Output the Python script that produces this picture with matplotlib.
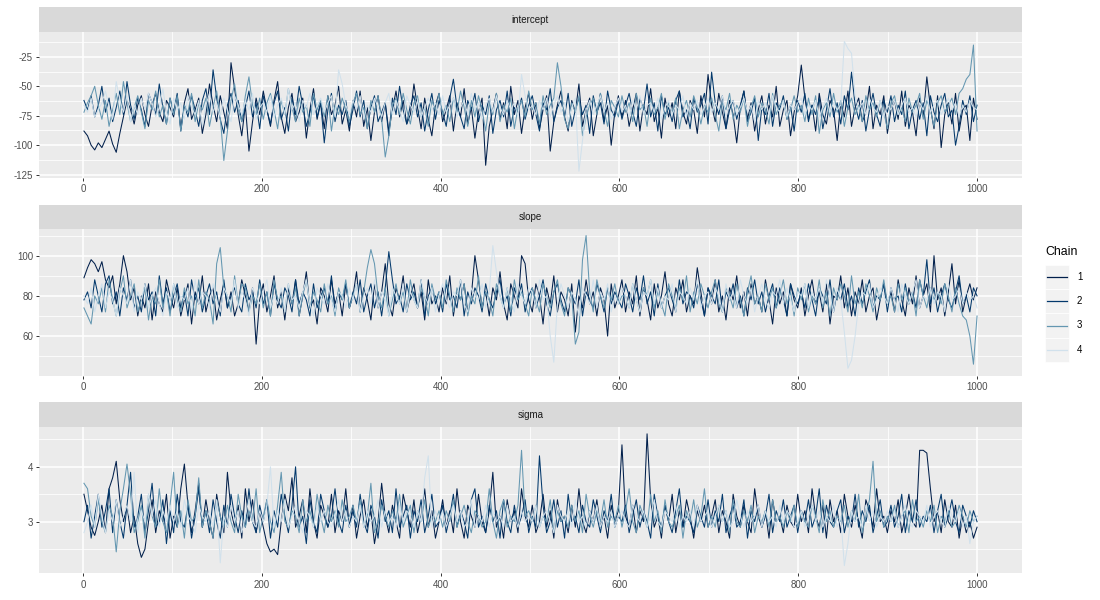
"""
Trace plot of four MCMC chains for intercept, slope and sigma.
"""
import numpy as np
import matplotlib
matplotlib.use("Agg")
import matplotlib.pyplot as plt
from matplotlib.patches import Rectangle
from matplotlib.lines import Line2D

# values, one every ~4 iterations (1..1000)
chains = ["1", "2", "3", "4"]
chain_colors = ["#011f4b", "#03396c", "#6497b1", "#d1e1ec"]
parameters = ["intercept", "slope", "sigma"]

intercept_1 = [-88, -92, -100, -104, -98, -102, -95, -88, -99, -106, -90, -76, -62, -70, -82, -66, -58, -74, -84, -66, -56, -72, -80, -62, -68,
               -76, -58, -86, -64, -52, -78, -70, -60, -90, -74, -48, -66, -80, -58, -72, -86, -30, -52, -74, -92, -66, -105, -80, -60, -74,
               -54, -70, -84, -62, -46, -76, -90, -68, -56, -80, -72, -60, -94, -70, -52, -78, -64, -86, -58, -74, -66, -50, -82, -70, -88,
               -62, -76, -54, -84, -68, -96, -72, -58, -80, -64, -88, -70, -54, -76, -62, -82, -74, -48, -68, -86, -60, -78, -92, -66, -56,
               -80, -70, -58, -88, -64, -76, -52, -82, -68, -94, -72, -60, -117, -84, -70, -56, -78, -64, -86, -50, -74, -62, -90, -68, -56,
               -78, -64, -86, -70, -58, -105, -80, -66, -54, -76, -88, -62, -72, -48, -84, -70, -60, -92, -74, -56, -80, -66, -100, -72, -58,
               -76, -62, -84, -70, -56, -88, -66, -74, -52, -80, -68, -94, -60, -76, -64, -86, -54, -72, -82, -62, -70, -90, -58, -76, -40,
               -66, -80, -56, -72, -86, -62, -74, -98, -68, -54, -78, -64, -88, -70, -58, -82, -66, -76, -50, -84, -70, -62, -92, -72, -58,
               -32, -60, -78, -66, -88, -56, -74, -82, -62, -70, -96, -64, -76, -54, -84, -68, -60, -80, -72, -50, -86, -66, -74, -58, -90,
               -70, -62, -78, -54, -84, -66, -72, -92, -60, -76, -42, -68, -86, -58, -102, -74, -64, -82, -56, -88, -70, -66, -96, -60, -78]
intercept_2 = [-62, -70, -58, -76, -66, -50, -72, -60, -80, -68, -54, -74, -46, -66, -78, -60, -70, -84, -56, -64, -74, -48, -68, -82, -60,
               -72, -56, -88, -66, -76, -58, -70, -84, -62, -52, -74, -36, -60, -78, -90, -66, -56, -72, -62, -80, -68, -54, -76, -64, -86,
               -58, -70, -82, -64, -54, -78, -68, -88, -60, -74, -50, -66, -84, -72, -58, -76, -64, -98, -70, -56, -80, -66, -74, -62, -84,
               -70, -54, -76, -62, -86, -68, -58, -80, -72, -64, -92, -60, -74, -50, -70, -82, -66, -58, -76, -64, -88, -70, -56, -78, -62,
               -72, -84, -60, -44, -68, -76, -86, -62, -70, -56, -80, -66, -74, -58, -90, -70, -62, -76, -54, -84, -68, -72, -60, -78, -66,
               -58, -74, -88, -64, -70, -52, -80, -68, -62, -76, -56, -84, -70, -60, -74, -66, -90, -58, -72, -64, -82, -54, -70, -76, -62,
               -78, -66, -56, -72, -84, -60, -70, -48, -76, -64, -88, -58, -74, -68, -80, -62, -54, -76, -70, -86, -60, -72, -66, -56, -82,
               -38, -64, -74, -58, -86, -70, -62, -78, -66, -54, -80, -72, -60, -96, -68, -74, -56, -84, -64, -70, -58, -78, -66, -88, -62,
               -72, -56, -80, -66, -74, -60, -86, -70, -52, -76, -64, -82, -58, -70, -38, -66, -78, -62, -88, -70, -56, -74, -84, -62, -72,
               -58, -80, -66, -74, -54, -86, -70, -62, -78, -64, -92, -58, -72, -80, -66, -56, -76, -70, -100, -84, -62, -74, -58, -80, -66]
intercept_3 = [-72, -64, -58, -50, -66, -78, -62, -84, -70, -56, -74, -46, -64, -80, -68, -58, -72, -86, -62, -70, -54, -76, -66, -82, -60,
               -74, -58, -88, -66, -72, -56, -80, -64, -70, -60, -84, -68, -54, -76, -113, -88, -62, -48, -70, -80, -58, -42, -66, -74, -60,
               -78, -64, -56, -70, -86, -62, -74, -52, -68, -80, -60, -72, -66, -84, -56, -70, -62, -76, -58, -88, -66, -74, -60, -70, -80,
               -64, -56, -74, -68, -86, -62, -72, -58, -78, -110, -92, -66, -60, -74, -56, -70, -82, -64, -58, -76, -68, -84, -62, -70, -56,
               -74, -66, -80, -60, -72, -54, -68, -84, -62, -76, -58, -70, -88, -64, -74, -56, -80, -66, -72, -60, -86, -68, -62, -76, -54,
               -70, -64, -82, -58, -74, -66, -60, -30, -50, -78, -86, -64, -72, -58, -92, -76, -66, -60, -74, -56, -70, -84, -62, -68, -76,
               -58, -72, -64, -80, -56, -70, -66, -84, -60, -74, -68, -56, -78, -64, -72, -60, -86, -70, -62, -76, -58, -68, -82, -66, -72,
               -60, -74, -88, -64, -70, -56, -78, -66, -72, -60, -84, -68, -58, -76, -64, -70, -82, -56, -74, -66, -62, -78, -70, -58, -72,
               -66, -80, -60, -74, -58, -90, -70, -64, -76, -56, -72, -62, -84, -68, -60, -74, -66, -80, -58, -70, -64, -76, -62, -72, -86,
               -64, -58, -74, -68, -80, -60, -72, -66, -56, -78, -62, -70, -84, -64, -58, -72, -66, -60, -74, -56, -52, -44, -40, -15, -88]
intercept_4 = [-66, -72, -60, -76, -70, -64, -54, -68, -78, -46, -62, -72, -58, -80, -66, -74, -60, -70, -56, -64, -76, -68, -52, -72, -82,
               -60, -70, -64, -78, -58, -68, -74, -62, -84, -66, -56, -72, -64, -76, -60, -70, -80, -58, -66, -74, -62, -70, -56, -78, -68,
               -64, -72, -58, -76, -66, -60, -74, -52, -70, -64, -80, -62, -68, -56, -74, -66, -60, -72, -64, -58, -76, -36, -48, -66, -74,
               -62, -70, -58, -78, -66, -72, -60, -68, -76, -64, -56, -74, -62, -70, -80, -58, -66, -72, -62, -76, -68, -60, -70, -64, -74,
               -58, -72, -66, -60, -76, -68, -62, -74, -56, -70, -64, -78, -66, -60, -72, -58, -68, -74, -62, -70, -64, -76, -40, -58, -70,
               -66, -74, -62, -70, -60, -76, -66, -58, -72, -64, -80, -68, -60, -122, -96, -70, -62, -74, -66, -58, -72, -64, -78, -68, -60,
               -72, -66, -76, -62, -70, -58, -74, -66, -64, -72, -60, -78, -68, -62, -74, -66, -70, -58, -76, -64, -70, -62, -74, -68, -60,
               -72, -64, -70, -58, -76, -66, -62, -74, -68, -60, -72, -66, -80, -62, -70, -64, -74, -58, -68, -72, -62, -76, -66, -70, -64,
               -60, -74, -66, -70, -62, -76, -68, -60, -72, -64, -70, -66, -12, -18, -22, -58, -70, -64, -74, -60, -68, -72, -62, -76, -66,
               -70, -62, -74, -66, -60, -72, -68, -76, -64, -70, -58, -72, -66, -62, -74, -68, -60, -70, -64, -76, -66, -72, -62, -68, -70]

slope_1 = [89, 94, 98, 96, 92, 97, 88, 84, 90, 76, 86, 100, 92, 78, 84, 70, 80, 74, 86, 68, 82, 76, 72, 88, 80,
           74, 84, 70, 78, 86, 66, 82, 76, 90, 72, 80, 84, 68, 78, 86, 74, 82, 70, 76, 88, 80, 72, 84, 56, 78,
           86, 72, 80, 90, 74, 82, 68, 84, 76, 88, 70, 80, 92, 74, 78, 66, 84, 80, 72, 88, 76, 82, 70, 86, 74,
           80, 92, 72, 84, 78, 68, 86, 74, 82, 96, 76, 70, 84, 78, 90, 72, 80, 86, 74, 82, 68, 88, 76, 80, 72,
           84, 76, 90, 70, 82, 78, 86, 72, 80, 100, 88, 74, 82, 70, 84, 78, 92, 76, 68, 86, 80, 74, 100, 96, 78,
           72, 86, 80, 66, 84, 76, 90, 72, 82, 78, 70, 86, 62, 80, 74, 88, 76, 82, 70, 84, 78, 60, 86, 74, 80,
           88, 72, 82, 76, 90, 70, 84, 78, 68, 86, 74, 80, 92, 76, 70, 84, 78, 88, 72, 80, 76, 94, 82, 70, 84,
           76, 88, 72, 80, 68, 84, 78, 90, 74, 82, 70, 86, 76, 80, 72, 88, 78, 66, 84, 76, 82, 70, 86, 78, 74,
           84, 70, 80, 88, 76, 82, 72, 86, 66, 80, 78, 90, 74, 84, 70, 82, 76, 88, 72, 80, 84, 68, 78, 86, 76,
           82, 72, 88, 78, 70, 84, 76, 90, 74, 80, 86, 72, 100, 78, 84, 70, 82, 96, 76, 88, 72, 80, 86, 78, 84]
slope_2 = [78, 82, 74, 88, 80, 72, 86, 90, 76, 82, 70, 84, 78, 88, 74, 80, 72, 86, 78, 82, 70, 90, 76, 84, 72,
           80, 86, 74, 82, 70, 88, 78, 84, 72, 80, 86, 76, 82, 70, 88, 74, 80, 84, 76, 72, 86, 78, 82, 74, 88,
           76, 82, 70, 86, 78, 74, 84, 80, 72, 88, 76, 82, 78, 70, 86, 74, 80, 84, 76, 90, 72, 82, 78, 86, 74,
           82, 76, 88, 72, 80, 86, 74, 82, 70, 84, 102, 88, 76, 80, 72, 86, 78, 82, 74, 88, 70, 80, 84, 76, 82,
           72, 86, 78, 80, 74, 88, 70, 82, 76, 84, 80, 72, 86, 78, 74, 82, 88, 76, 80, 70, 84, 78, 86, 72, 80,
           84, 74, 80, 88, 76, 70, 82, 86, 78, 72, 84, 80, 76, 88, 70, 82, 78, 74, 86, 80, 72, 84, 76, 82, 78,
           74, 86, 80, 72, 84, 78, 90, 76, 82, 70, 86, 74, 80, 84, 78, 72, 88, 76, 82, 80, 74, 86, 78, 70, 84,
           80, 76, 88, 72, 82, 78, 86, 74, 80, 70, 84, 78, 88, 76, 82, 72, 80, 86, 74, 84, 78, 70, 86, 80, 76,
           82, 74, 86, 78, 70, 84, 80, 76, 88, 72, 82, 78, 86, 74, 80, 70, 84, 76, 82, 88, 74, 80, 78, 86, 72,
           84, 78, 80, 72, 86, 76, 82, 74, 88, 80, 98, 76, 84, 72, 80, 86, 78, 74, 82, 90, 76, 80, 72, 84, 80]
slope_3 = [74, 70, 66, 80, 76, 84, 72, 88, 78, 70, 82, 90, 74, 80, 86, 72, 78, 84, 68, 80, 76, 88, 74, 82, 70,
           86, 78, 72, 84, 76, 80, 70, 88, 74, 82, 78, 66, 96, 104, 84, 80, 72, 90, 76, 86, 84, 72, 80, 76, 86,
           74, 82, 70, 88, 78, 80, 72, 86, 76, 84, 70, 80, 88, 74, 82, 78, 72, 86, 76, 80, 70, 84, 78, 88, 74,
           80, 86, 72, 82, 94, 103, 96, 80, 74, 84, 70, 78, 86, 76, 82, 72, 88, 78, 74, 84, 80, 70, 86, 78, 82,
           74, 88, 80, 72, 84, 78, 86, 70, 80, 76, 90, 74, 82, 78, 70, 86, 80, 74, 84, 72, 88, 78, 82, 76, 70,
           84, 78, 72, 86, 80, 74, 82, 88, 76, 70, 84, 80, 56, 62, 98, 110, 82, 72, 88, 80, 74, 84, 78, 86, 76,
           80, 80, 74, 86, 78, 72, 84, 80, 88, 74, 82, 76, 70, 86, 80, 74, 84, 78, 90, 72, 82, 76, 86, 80, 74,
           82, 88, 76, 72, 84, 80, 74, 86, 78, 70, 82, 90, 76, 80, 72, 86, 78, 84, 74, 80, 88, 76, 82, 70, 84,
           78, 86, 72, 80, 76, 88, 74, 82, 70, 84, 78, 86, 80, 72, 90, 76, 82, 74, 86, 80, 72, 84, 78, 88, 76,
           80, 72, 86, 78, 84, 76, 82, 70, 88, 80, 74, 84, 78, 82, 76, 86, 80, 72, 84, 76, 70, 68, 60, 46, 70]
slope_4 = [80, 76, 84, 72, 80, 86, 74, 82, 78, 70, 84, 80, 76, 88, 72, 82, 78, 86, 74, 80, 84, 76, 70, 82, 78,
           86, 74, 80, 78, 84, 72, 88, 76, 82, 80, 74, 86, 78, 72, 84, 80, 76, 88, 74, 82, 78, 70, 84, 80, 76,
           82, 88, 74, 80, 76, 84, 72, 86, 78, 80, 74, 82, 88, 76, 70, 84, 80, 76, 86, 78, 72, 82, 80, 74, 84,
           78, 86, 72, 80, 84, 76, 88, 74, 82, 78, 70, 84, 80, 76, 86, 72, 82, 78, 74, 88, 80, 76, 84, 72, 80,
           86, 78, 74, 82, 80, 88, 76, 72, 84, 80, 78, 86, 74, 82, 105, 92, 80, 74, 84, 78, 72, 86, 80, 76, 84,
           82, 74, 88, 78, 80, 60, 47, 76, 86, 80, 74, 82, 78, 70, 84, 80, 76, 88, 74, 82, 78, 86, 72, 80, 76,
           84, 80, 74, 86, 78, 72, 82, 80, 88, 76, 84, 74, 80, 78, 86, 72, 82, 80, 76, 84, 78, 88, 74, 80, 82,
           76, 84, 80, 72, 86, 78, 82, 74, 88, 80, 76, 84, 72, 80, 86, 78, 74, 82, 80, 88, 76, 84, 78, 72, 82,
           80, 86, 74, 82, 78, 84, 76, 88, 80, 72, 84, 78, 62, 44, 48, 60, 76, 82, 80, 86, 74, 78, 84, 80, 76,
           84, 78, 72, 86, 80, 76, 82, 88, 74, 80, 78, 84, 76, 82, 80, 72, 86, 78, 80, 84, 76, 82, 78, 80, 74]

sigma_1 = [3.5, 3.2, 2.9, 2.75, 3.0, 3.3, 2.8, 3.6, 3.8, 4.1, 3.4, 3.0, 3.3, 2.8, 3.1, 2.6, 2.35, 2.5, 3.0, 3.4, 2.8, 3.2, 3.0, 3.5, 2.7,
           3.1, 2.9, 3.6, 4.05, 3.3, 2.8, 3.2, 3.7, 2.9, 3.4, 3.0, 2.7, 3.5, 3.1, 2.8, 3.9, 3.2, 2.9, 3.3, 2.7, 3.6, 3.0, 3.4, 2.8, 3.2,
           2.9, 2.6, 2.45, 2.5, 2.4, 3.0, 3.5, 3.2, 3.8, 2.9, 3.1, 3.4, 2.8, 3.6, 3.0, 2.7, 3.3, 3.1, 2.9, 3.5, 2.8, 3.2, 3.0, 3.6, 2.9,
           3.3, 2.7, 3.1, 3.4, 2.9, 3.2, 2.6, 3.0, 3.7, 3.1, 2.8, 3.3, 3.0, 2.7, 3.5, 3.2, 2.9, 3.4, 2.8, 3.1, 3.6, 2.9, 3.2, 2.7, 3.0,
           3.4, 2.9, 3.2, 2.8, 3.6, 3.0, 2.7, 3.3, 3.1, 2.9, 3.5, 3.0, 2.8, 3.2, 3.9, 2.9, 3.1, 2.7, 3.4, 3.0, 3.2, 2.8, 3.6, 3.1, 2.9,
           3.3, 2.8, 3.0, 3.5, 2.9, 3.2, 2.7, 3.4, 3.0, 3.1, 2.8, 3.3, 2.9, 3.6, 3.0, 2.8, 3.2, 3.0, 3.4, 2.9, 3.1, 2.7, 3.3, 3.0, 3.2,
           4.4, 3.1, 2.9, 3.3, 2.8, 3.2, 3.0, 4.6, 3.4, 2.9, 3.1, 2.7, 3.3, 3.0, 3.5, 2.8, 3.2, 2.9, 3.4, 3.1, 2.7, 3.2, 3.0, 3.3, 2.9,
           3.1, 3.4, 2.8, 3.2, 3.0, 2.7, 3.5, 3.1, 2.9, 3.3, 3.0, 2.8, 3.6, 3.1, 2.9, 3.2, 2.7, 3.4, 3.0, 3.1, 2.8, 3.3, 3.0, 2.9, 3.5,
           3.0, 3.2, 2.8, 3.6, 3.1, 2.9, 3.3, 2.7, 3.4, 3.0, 3.2, 2.8, 3.5, 3.1, 2.9, 3.3, 3.0, 2.7, 3.4, 3.2, 2.9, 3.6, 3.0, 3.1, 2.8,
           3.2, 3.0, 3.4, 2.8, 3.1, 3.5, 3.0, 2.9, 4.3, 4.3, 4.25, 3.6, 3.0, 3.2, 2.8, 3.4, 3.0, 2.9, 3.3, 2.7, 3.1, 2.8, 3.0, 2.7, 2.9]
sigma_2 = [3.0, 3.3, 2.7, 3.1, 3.5, 2.9, 3.2, 3.6, 2.8, 3.4, 3.0, 2.7, 3.3, 3.9, 2.9, 3.1, 3.5, 2.8, 3.2, 3.7, 2.9, 3.0, 3.4, 2.6, 3.2,
           2.8, 3.5, 3.0, 2.9, 3.3, 2.7, 3.1, 3.6, 2.9, 3.2, 2.8, 3.4, 3.0, 2.7, 3.3, 2.9, 3.5, 3.1, 2.8, 3.2, 2.9, 3.6, 3.0, 2.8, 3.3,
           3.0, 3.4, 2.7, 3.2, 2.9, 3.5, 3.1, 2.8, 3.3, 4.0, 2.9, 3.1, 2.6, 3.4, 3.0, 2.8, 3.5, 3.2, 2.9, 3.1, 3.6, 3.0, 2.8, 3.3, 2.9,
           3.2, 2.9, 3.5, 3.0, 2.8, 3.3, 3.1, 2.7, 3.4, 3.0, 3.2, 2.8, 3.6, 2.9, 3.1, 3.3, 2.7, 3.2, 3.0, 3.4, 2.8, 3.1, 3.5, 2.9, 3.0,
           3.3, 2.8, 3.1, 3.5, 2.9, 3.2, 3.0, 2.7, 3.4, 3.6, 2.9, 3.1, 2.8, 3.3, 3.0, 3.2, 2.7, 3.4, 3.0, 2.8, 3.3, 2.9, 3.1, 3.4, 2.8,
           3.1, 2.9, 4.2, 3.3, 2.8, 3.0, 3.4, 2.9, 3.2, 2.7, 3.5, 3.0, 3.1, 2.8, 3.3, 3.0, 2.9, 3.4, 3.1, 2.8, 3.2, 3.0, 3.5, 2.9, 3.1,
           3.0, 3.3, 2.8, 3.1, 3.4, 2.9, 3.2, 3.0, 2.7, 3.5, 3.1, 2.9, 3.3, 3.0, 2.8, 3.2, 3.6, 2.9, 3.1, 3.0, 2.8, 3.3, 3.1, 2.9, 3.4,
           2.9, 3.2, 3.0, 3.5, 2.8, 3.1, 3.3, 2.9, 3.0, 3.4, 2.7, 3.2, 3.0, 3.3, 2.9, 3.1, 3.5, 2.8, 3.2, 3.0, 3.4, 2.9, 3.1, 3.3, 2.8,
           3.2, 3.0, 3.4, 2.9, 3.1, 3.6, 2.8, 3.3, 3.0, 2.9, 3.2, 3.4, 2.8, 3.1, 3.0, 3.5, 2.9, 3.2, 3.0, 3.3, 2.8, 3.1, 3.4, 2.9, 3.0,
           3.3, 2.9, 3.1, 3.5, 2.8, 3.2, 3.0, 3.4, 2.9, 3.1, 3.0, 3.3, 2.8, 3.2, 3.5, 2.9, 3.1, 3.4, 3.0, 2.8, 3.3, 3.1, 2.9, 3.2, 3.0]
sigma_3 = [3.7, 3.6, 3.1, 2.9, 3.4, 3.0, 2.8, 3.3, 3.1, 2.45, 3.2, 3.6, 4.05, 3.5, 2.8, 3.0, 3.3, 2.7, 3.5, 3.1, 2.9, 3.6, 3.0, 2.8, 3.3,
           3.9, 2.9, 3.2, 2.7, 3.4, 3.0, 3.1, 3.8, 2.9, 3.2, 3.0, 2.7, 3.4, 3.1, 2.9, 3.3, 3.0, 2.8, 3.5, 3.1, 2.9, 3.2, 3.0, 3.6, 2.8,
           3.1, 3.4, 3.0, 2.8, 3.3, 3.9, 3.0, 2.9, 3.2, 3.1, 2.8, 3.4, 3.0, 3.2, 2.9, 3.5, 3.1, 2.8, 3.3, 3.0, 3.2, 2.9, 3.4, 3.0, 3.1,
           3.3, 3.0, 3.4, 2.9, 3.1, 3.7, 2.8, 3.0, 3.3, 3.1, 2.9, 3.2, 3.0, 3.5, 2.9, 3.1, 3.3, 2.8, 3.2, 3.0, 3.4, 2.9, 3.1, 3.0, 3.2,
           2.9, 3.2, 3.0, 3.4, 2.9, 3.1, 3.3, 3.0, 2.8, 3.2, 3.1, 2.9, 3.0, 3.6, 3.0, 2.7, 3.2, 3.4, 2.9, 3.1, 3.0, 3.3, 4.3, 3.1, 3.2,
           3.0, 3.3, 2.9, 3.1, 3.0, 3.4, 2.8, 3.2, 3.0, 3.1, 2.9, 3.3, 3.0, 3.2, 2.8, 3.5, 3.1, 2.9, 3.2, 3.0, 3.4, 2.9, 3.1, 3.0, 3.3,
           2.9, 3.2, 3.6, 3.0, 2.8, 3.3, 3.1, 2.9, 3.5, 3.0, 3.2, 2.8, 3.4, 3.0, 2.9, 3.1, 3.3, 2.7, 3.2, 3.0, 3.4, 2.9, 3.1, 3.6, 2.9,
           3.1, 2.9, 3.3, 3.0, 3.2, 2.8, 3.4, 3.0, 2.9, 3.2, 3.0, 3.3, 2.8, 3.1, 3.0, 3.2, 2.9, 3.4, 3.0, 3.1, 2.9, 3.2, 3.0, 3.3, 2.9,
           3.2, 3.0, 2.9, 3.3, 3.1, 2.8, 3.4, 3.0, 3.2, 2.9, 3.1, 3.0, 3.3, 2.9, 3.2, 3.0, 3.5, 2.8, 3.1, 3.4, 4.1, 3.0, 3.2, 2.9, 3.1,
           3.0, 3.3, 2.9, 3.1, 3.2, 2.8, 3.4, 3.0, 3.1, 2.9, 3.2, 3.0, 3.3, 2.8, 3.1, 3.0, 3.2, 2.9, 3.0, 3.3, 3.1, 2.9, 3.2, 3.0, 3.1]
sigma_4 = [2.8, 3.0, 3.3, 2.9, 3.5, 3.1, 2.8, 3.2, 3.0, 3.4, 2.9, 3.1, 3.3, 3.0, 3.9, 2.8, 3.2, 3.0, 3.5, 3.1, 3.4, 2.9, 3.2, 3.0, 3.3,
           3.0, 3.2, 2.9, 3.4, 3.1, 3.0, 2.8, 3.3, 3.1, 3.0, 3.2, 2.9, 3.4, 2.25, 3.1, 2.9, 3.3, 3.0, 3.2, 2.8, 3.1, 3.4, 3.0, 2.9, 3.2,
           3.0, 3.3, 4.0, 2.9, 3.2, 3.0, 3.4, 2.9, 3.1, 3.3, 3.0, 2.8, 3.2, 3.1, 2.9, 3.3, 3.0, 3.2, 3.0, 2.9, 3.1, 3.4, 3.0, 3.2, 2.9,
           3.1, 3.0, 3.3, 2.9, 3.2, 3.0, 3.1, 3.4, 2.9, 3.2, 3.0, 3.1, 2.9, 3.3, 3.0, 3.2, 3.1, 2.9, 3.2, 3.0, 3.8, 4.2, 2.9, 3.2, 3.0,
           3.2, 2.9, 3.1, 3.3, 3.0, 3.2, 2.9, 3.0, 3.4, 2.9, 3.1, 3.0, 3.3, 2.9, 3.2, 3.0, 3.1, 2.9, 3.3, 3.0, 3.1, 2.9, 3.2, 3.0, 3.1,
           3.0, 3.3, 2.9, 3.1, 3.2, 3.0, 2.8, 3.3, 3.1, 3.0, 3.2, 2.9, 3.4, 3.0, 3.1, 2.9, 3.2, 3.0, 3.3, 2.9, 3.1, 3.0, 3.2, 2.9, 3.1,
           3.2, 3.0, 2.9, 3.3, 3.1, 3.0, 3.2, 2.9, 3.1, 3.4, 3.0, 2.9, 3.2, 3.1, 3.0, 3.3, 2.9, 3.1, 3.0, 3.2, 2.9, 3.3, 3.0, 3.1, 3.2,
           2.9, 3.1, 3.3, 3.0, 3.2, 2.9, 3.0, 3.4, 3.1, 2.9, 3.2, 3.0, 3.1, 3.3, 2.9, 3.2, 3.0, 3.1, 2.9, 3.3, 3.0, 3.2, 3.1, 2.9, 3.0,
           3.2, 2.9, 3.1, 3.3, 3.0, 3.2, 2.9, 3.1, 3.0, 3.3, 2.9, 3.1, 2.2, 2.6, 3.2, 3.0, 3.1, 2.9, 3.3, 3.0, 3.2, 2.9, 3.1, 3.0, 3.2,
           3.0, 3.2, 2.9, 3.1, 3.3, 3.0, 2.9, 3.2, 3.1, 3.0, 3.3, 2.9, 3.1, 3.2, 3.0, 2.9, 3.3, 3.1, 3.0, 3.2, 2.9, 3.1, 2.6, 3.0, 3.1]

traces = {
    "intercept": [intercept_1, intercept_2, intercept_3, intercept_4],
    "slope": [slope_1, slope_2, slope_3, slope_4],
    "sigma": [sigma_1, sigma_2, sigma_3, sigma_4],
}

x_ticks = [0, 200, 400, 600, 800, 1000]
x_minor = [100, 300, 500, 700, 900]
y_ticks = {
    "intercept": [-125, -100, -75, -50, -25],
    "slope": [60, 80, 100],
    "sigma": [3, 4],
}
y_minor = {
    "intercept": [-112.5, -87.5, -62.5, -37.5, -12.5],
    "slope": [50, 70, 90, 110],
    "sigma": [2.5, 3.5, 4.5],
}
y_limits = {
    "intercept": (-127.8, -3.7),
    "slope": (40.3, 113.1),
    "sigma": (2.06, 4.73),
}

plt.rcParams["font.family"] = ["Liberation Sans", "DejaVu Sans"]

fig = plt.figure(figsize=(11, 6), dpi=100)
fig.patch.set_facecolor("white")

W, H = 1100.0, 600.0
left, right = 39.3, 1021.7
panel_px = [(31.7, 178.0), (229.3, 375.7), (426.7, 573.3)]
strip_px = 24.3

for name, (top, bottom) in zip(parameters, panel_px):
    ax = fig.add_axes([left / W, 1 - bottom / H, (right - left) / W, (bottom - top) / H])
    ax.set_facecolor("#EBEBEB")
    for s in ax.spines.values():
        s.set_visible(False)

    for v in x_minor:
        ax.axvline(v, color="white", lw=0.55, zorder=0.5)
    for v in x_ticks:
        ax.axvline(v, color="white", lw=1.1, zorder=0.6)
    for v in y_minor[name]:
        ax.axhline(v, color="white", lw=0.55, zorder=0.5)
    for v in y_ticks[name]:
        ax.axhline(v, color="white", lw=1.1, zorder=0.6)

    for vals, col in zip(traces[name], chain_colors):
        it = np.linspace(1, 1000, len(vals))
        ax.plot(it, vals, color=col, lw=0.75, zorder=2)

    ax.set_xlim(-48.95, 1049.95)
    ax.set_ylim(*y_limits[name])
    ax.set_xticks(x_ticks)
    ax.set_xticklabels([str(t) for t in x_ticks])
    ax.set_yticks(y_ticks[name])
    ax.set_yticklabels([f"{t:g}" for t in y_ticks[name]])
    ax.tick_params(length=2.5, width=0.7, color="#333333", labelcolor="#4D4D4D",
                   labelsize=7, pad=2)

    # facet strip
    h = strip_px / (bottom - top)
    ax.add_patch(Rectangle((0, 1), 1, h, transform=ax.transAxes, clip_on=False,
                           facecolor="#D9D9D9", edgecolor="none"))
    ax.text(0.5, 1 + h / 2, name, transform=ax.transAxes, ha="center", va="center",
            fontsize=7, color="#1A1A1A")

# legend drawn by hand, ggplot style
fig.text(1045 / W, 1 - 251.7 / H, "Chain", ha="left", va="center", fontsize=8.8, color="black")
key_top, key_h = 265.0, 24.2
for i, (lab, col) in enumerate(zip(chains, chain_colors)):
    y0 = key_top + i * key_h
    fig.patches.append(Rectangle((1045 / W, 1 - (y0 + key_h) / H), 24.3 / W, key_h / H,
                                 transform=fig.transFigure, facecolor="#F2F2F2",
                                 edgecolor="white", lw=0.5))
    yc = 1 - (y0 + key_h / 2) / H
    fig.add_artist(Line2D([1047 / W, 1067 / W], [yc, yc], transform=fig.transFigure,
                          color=col, lw=0.9))
    fig.text(1077 / W, yc, lab, ha="left", va="center", fontsize=7, color="black")

fig.savefig("out.png", dpi=100)
